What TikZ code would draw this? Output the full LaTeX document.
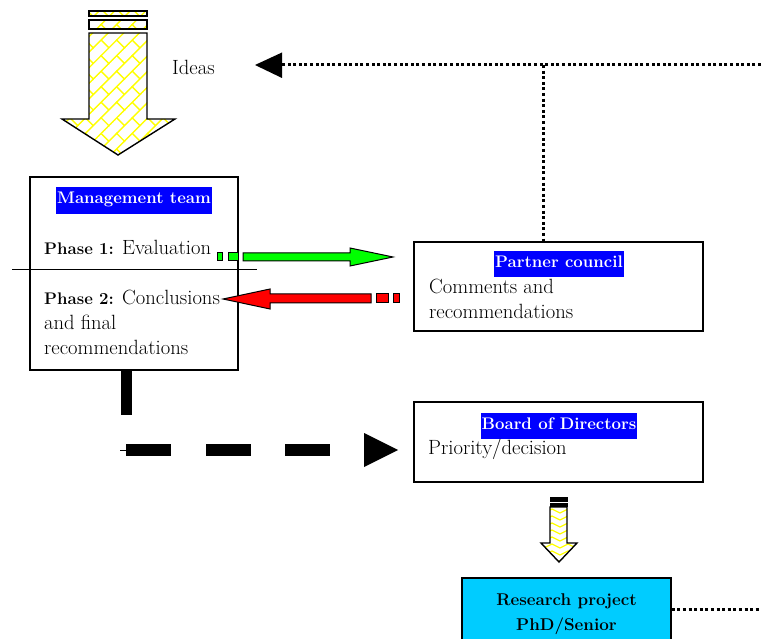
\documentclass[tikz,border=0pt]{standalone}
\usepackage{fontspec}
\usetikzlibrary{patterns.meta}
\tikzdeclarepattern{name=dbricks, type=uncolored,
  bottom left={(-1pt,-1pt)}, top right={(23pt,23pt)}, tile size={(22pt,22pt)},
  tile transformation={rotate=45},
  code={\draw[line width=1.4pt] (-1pt,0pt)--(23pt,0pt) (-1pt,11pt)--(23pt,11pt)
        (0pt,0pt)--(0pt,11pt) (11pt,11pt)--(11pt,22pt);}}
\tikzdeclarepattern{name=chev, type=uncolored,
  bottom left={(-1pt,-1pt)}, top right={(17pt,8pt)}, tile size={(16pt,7pt)},
  code={\draw[line width=1.3pt] (0pt,0pt)--(8pt,4pt)--(16pt,0pt);}}
\newcommand\bodyfont{\fontsize{20.6pt}{25pt}\selectfont}
\newcommand\boldfont{\fontsize{16.8pt}{25pt}\selectfont\bfseries}
\newcommand\bpart[1]{{\boldfont #1}}
\begin{document}
\begin{tikzpicture}[x=1pt,y=-1pt,
  box/.style={draw, line width=1.4pt, inner sep=0pt, fill=white},
  hl/.style={fill=blue, text=white, font=\boldfont, inner xsep=1pt, inner ysep=0pt, text height=16.5pt, text depth=10pt},
  txt/.style={anchor=base west, inner sep=0pt, font=\bodyfont},
  dotline/.style={line width=3pt, dash pattern=on 3pt off 2.6pt},
  brickfill/.style={pattern={dbricks}, pattern color=yellow},
  chevfill/.style={pattern={chev}, pattern color=yellow},
  outl/.style={draw, line width=1.4pt}]
\clip (0,0) rectangle (761,639);
\fill[white] (0,0) rectangle (761,639);

% big yellow arrow
\coordinate (bigtip) at (118,155);
\path[brickfill] (89,11) rectangle (147,16);
\path[brickfill] (89,20) rectangle (147,29);
\path[brickfill] (89,33) -- (147,33) -- (147,119) -- (175,119) -- (bigtip) -- (62,119) -- (89,119) -- cycle;
\path[outl] (89,11) rectangle (147,16);
\path[outl] (89,20) rectangle (147,29);
\path[outl] (89,33) -- (147,33) -- (147,119) -- (175,119) -- (bigtip) -- (62,119) -- (89,119) -- cycle;
\node[txt] (ideas) at (172,75) {Ideas};

% boxes
\node[box, minimum width=208pt, minimum height=193pt] (mgmt) at (134,273.5) {};
\node[box, minimum width=289pt, minimum height=89pt] (partner) at (558.5,286.5) {};
\node[box, minimum width=289pt, minimum height=80pt] (board) at (558.5,442) {};
\node[box, fill={rgb,255:red,0;green,204;blue,255}, minimum width=209pt, minimum height=90pt] (research) at (566.5,623) {};

% management contents
\node[hl, anchor=base] (mgmttitle) at (134,204) {Management team};
\node[txt] (p1) at (44,255) {\bpart{Phase 1:} Evaluation};
\node[txt] (p2a) at (44,305) {\bpart{Phase 2:} Conclusions};
\node[txt] (p2b) at (44,330) {and final};
\node[txt] (p2c) at (44,355) {recommendations};
\coordinate (sepL) at (12,270);
\coordinate (sepR) at (257,270);
\draw[line width=1pt] (sepL) -- (sepR);

% partner contents
\node[hl, anchor=base] (ptitle) at (559,267.5) {Partner council};
\node[txt] (c1) at (429,294) {Comments and};
\node[txt] (c2) at (429,319) {recommendations};

% board contents
\node[hl, anchor=base] (btitle) at (559,429) {Board of Directors};
\node[txt] (b1) at (428,454) {Priority/decision};

% research contents
\node[anchor=base, inner sep=0pt, font=\fontsize{17pt}{25pt}\selectfont\bfseries] (r1) at (566.5,605) {Research project};
\node[anchor=base, inner sep=0pt, font=\fontsize{17pt}{25pt}\selectfont\bfseries] (r2) at (566.5,630) {PhD/Senior};

% green arrow (management -> partner)
\coordinate (gtip) at (393,257);
\filldraw[fill=green, line width=1pt] (217,253) rectangle (222,261);
\filldraw[fill=green, line width=1pt] (228,253) rectangle (238,261);
\filldraw[fill=green, line width=1pt] (243,253) -- (350,253) -- (350,248) -- (gtip) -- (350,266) -- (350,261) -- (243,261) -- cycle;

% red arrow (partner -> management)
\coordinate (rtip) at (223,299);
\filldraw[fill=red, line width=1pt] (393,294) rectangle (399,303);
\filldraw[fill=red, line width=1pt] (376,294) rectangle (388,303);
\filldraw[fill=red, line width=1pt] (371,294) -- (270,294) -- (270,289) -- (rtip) -- (270,309) -- (270,303) -- (371,303) -- cycle;

% thick black connector management -> board
\fill (121,370) rectangle (132,415);
\draw[line width=0.8pt] (120,450) -- (126,450);
\fill (126,444) rectangle (171,456);
\fill (206,444) rectangle (251,456);
\fill (285,444) rectangle (330,456);
\coordinate (btip) at (398,450);
\fill (364,433) -- (btip) -- (364,467) -- cycle;

% dotted ideas line
\coordinate (rightedge) at (761,65);
\coordinate (junction) at (543,65);
\draw[dotline] (rightedge) -- (282,65);
\draw[dotline] (junction) -- (partner.north -| junction);
\fill (255,65) -- (282,52.5) -- (282,78) -- cycle;

% small yellow arrow board -> research
\coordinate (stip) at (559,562);
\filldraw[line width=1pt] (550,497) rectangle (567,501);
\filldraw[line width=1pt] (550,503) rectangle (567,506);
\path[chevfill] (550,507) -- (567,507) -- (567,543) -- (577,543) -- (stip) -- (541,543) -- (550,543) -- cycle;
\path[outl] (550,507) -- (567,507) -- (567,543) -- (577,543) -- (stip) -- (541,543) -- (550,543) -- cycle;

% dotted line out of research
\draw[dotline] (research.east |- 0,609) -- (761,609);
\end{tikzpicture}
\end{document}
